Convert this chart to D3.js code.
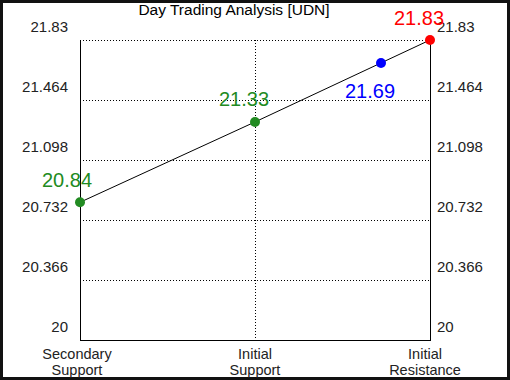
<html lang="en">
<head>
<title>Day Trading Analysis</title>
<script src="https://d3js.org/d3.v7.min.js"></script>
<style>
  body { margin: 0; background: #fff; }
  svg text { font-family: "Liberation Sans", Arial, sans-serif; }
</style>
</head>
<body>
<div id="chart"></div>
<script>
// data
var categories = [["Secondary", "Support"], ["Initial", "Support"], ["Initial", "Resistance"]];
var pointPos = [0, 1, 1.72, 2];
var pointValues = [20.84, 21.33, 21.69, 21.83];
var pointColors = ["#228B22", "#228B22", "#0000FF", "#FF0000"];
var yTicks = [20, 20.366, 20.732, 21.098, 21.464, 21.83];

var W = 510, H = 380;
var margin = {top: 40, right: 80, bottom: 40, left: 80};

var svg = d3.select("#chart").append("svg")
    .attr("width", W).attr("height", H);

svg.append("rect").attr("x", 1.5).attr("y", 1.5)
    .attr("width", W - 3).attr("height", H - 3)
    .attr("fill", "#fff").attr("stroke", "#111").attr("stroke-width", 3);

var x = d3.scaleLinear().domain([0, 2]).range([margin.left, W - margin.right]);
var y = d3.scaleLinear().domain([20, 21.83]).range([H - margin.bottom, margin.top]);

// title
svg.append("text").attr("x", 234).attr("y", 15)
    .attr("text-anchor", "middle").attr("font-size", 15.5)
    .text("Day Trading Analysis [UDN]");

// horizontal grid
svg.selectAll(".hgrid").data(yTicks.slice(1)).enter().append("line")
    .attr("x1", x(0)).attr("x2", x(2))
    .attr("y1", function(d) { return Math.round(y(d)) + 0.5; })
    .attr("y2", function(d) { return Math.round(y(d)) + 0.5; })
    .attr("stroke", "#000").attr("stroke-dasharray", "1,2");

// vertical grid at middle category
svg.append("line")
    .attr("x1", x(1) + 0.5).attr("x2", x(1) + 0.5)
    .attr("y1", y(21.83)).attr("y2", y(20))
    .attr("stroke", "#000").attr("stroke-dasharray", "1,2");

// axes frame
svg.append("line").attr("x1", x(0) + 0.5).attr("x2", x(0) + 0.5)
    .attr("y1", y(21.83)).attr("y2", y(20) + 0.5).attr("stroke", "#000");
svg.append("line").attr("x1", x(2) + 0.5).attr("x2", x(2) + 0.5)
    .attr("y1", y(21.83)).attr("y2", y(20) + 0.5).attr("stroke", "#000");
svg.append("line").attr("x1", x(0)).attr("x2", x(2) + 1)
    .attr("y1", y(20) + 0.5).attr("y2", y(20) + 0.5).attr("stroke", "#000");

// y tick labels (left and right)
svg.selectAll(".yl").data(yTicks).enter().append("text")
    .attr("x", x(0) - 12).attr("y", function(d) { return y(d) - 8; })
    .attr("text-anchor", "end").attr("font-size", 15).attr("fill", "#222")
    .text(function(d) { return d; });
svg.selectAll(".yr").data(yTicks).enter().append("text")
    .attr("x", x(2) + 7).attr("y", function(d) { return y(d) - 8; })
    .attr("text-anchor", "start").attr("font-size", 15).attr("fill", "#222")
    .text(function(d) { return d; });

// category labels
var catX = [77, 255, 425];
categories.forEach(function(c, i) {
  var t = svg.append("text").attr("text-anchor", "middle")
      .attr("font-size", 14.5).attr("fill", "#222");
  t.append("tspan").attr("x", catX[i]).attr("y", 359).text(c[0]);
  t.append("tspan").attr("x", catX[i]).attr("y", 375).text(c[1]);
});

// line through points
var line = d3.line()
    .x(function(d, i) { return x(pointPos[i]); })
    .y(function(d) { return y(d); });
svg.append("path").datum(pointValues)
    .attr("d", line).attr("fill", "none").attr("stroke", "#000").attr("stroke-width", 1);

// points
svg.selectAll(".pt").data(pointValues).enter().append("circle")
    .attr("cx", function(d, i) { return x(pointPos[i]); })
    .attr("cy", function(d) { return y(d); })
    .attr("r", 5)
    .attr("fill", function(d, i) { return pointColors[i]; });

// value labels
var labelDx = [-13, -11, -11, -11];
var labelDy = [-15, -16, 35, -15];
svg.selectAll(".vl").data(pointValues).enter().append("text")
    .attr("x", function(d, i) { return x(pointPos[i]) + labelDx[i]; })
    .attr("y", function(d, i) { return y(d) + labelDy[i]; })
    .attr("text-anchor", "middle").attr("font-size", 20)
    .attr("fill", function(d, i) { return pointColors[i]; })
    .text(function(d) { return d.toFixed(2); });
</script>
</body>
</html>
